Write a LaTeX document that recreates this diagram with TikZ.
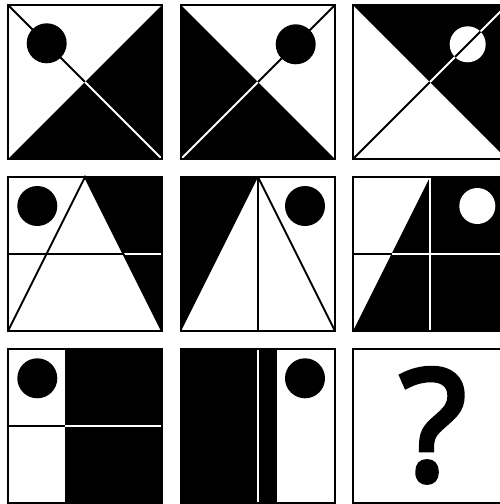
\documentclass[tikz,border=0pt]{standalone}
\usepackage{fontspec}
\newfontfamily\qfont[FakeBold=3.5]{Open Sans}
\begin{document}
\begin{tikzpicture}[x=1pt,y=-1pt,
  frame/.style={draw=black,line width=2pt},
  bk/.style={draw=black,line width=1.8pt},
  wt/.style={draw=white,line width=1.8pt},
  blackfill/.style={fill=black},
  whitefill/.style={fill=white}]
\useasboundingbox (0,0) rectangle (500,504);
\clip (0,0) rectangle (500,504);
\fill[white] (0,0) rectangle (500,504);
% Row 1, panel 1
\begin{scope}[shift={(8,5)}]
  \fill[blackfill] (0,154) -- (154,0) -- (154,154) -- cycle;
  \draw[bk] (0,0) -- (77,77);
  \draw[wt] (77,77) -- (154,154);
  \fill[blackfill] (38.7,38.3) circle (20);
  \draw[frame] (0,0) rectangle (154,154);
\end{scope}
% Row 1, panel 2
\begin{scope}[shift={(181,5)}]
  \fill[blackfill] (0,0) -- (154,154) -- (0,154) -- cycle;
  \draw[wt] (0,154) -- (77,77);
  \draw[bk] (77,77) -- (154,0);
  \fill[blackfill] (114.7,39.3) circle (20);
  \draw[frame] (0,0) rectangle (154,154);
\end{scope}
% Row 1, panel 3
\begin{scope}[shift={(353,5)}]
  \fill[blackfill] (0,0) -- (154,0) -- (154,154) -- cycle;
  \draw[bk] (0,154) -- (77,77);
  \draw[wt] (77,77) -- (154,0);
  \fill[whitefill] (114.7,39.3) circle (18);
  \begin{scope}
    \clip (114.7,39.3) circle (18);
    \draw[bk] (77,77) -- (154,0);
  \end{scope}
  \draw[frame] (0,0) rectangle (154,154);
\end{scope}
% Row 2, panel 1
\begin{scope}[shift={(8,177)}]
  \fill[blackfill] (77,0) -- (154,0) -- (154,154) -- cycle;
  \draw[bk] (0,77) -- (115.5,77);
  \draw[wt] (115.5,77) -- (154,77);
  \draw[bk] (0,154) -- (77,0) -- (154,154);
  \fill[blackfill] (29.3,29) circle (20);
  \draw[frame] (0,0) rectangle (154,154);
\end{scope}
% Row 2, panel 2
\begin{scope}[shift={(181,177)}]
  \fill[blackfill] (0,0) -- (77,0) -- (0,154) -- cycle;
  \draw[bk] (77,0) -- (77,154);
  \draw[bk] (77,0) -- (154,154);
  \fill[blackfill] (124,29) circle (20);
  \draw[frame] (0,0) rectangle (154,154);
\end{scope}
% Row 2, panel 3
\begin{scope}[shift={(353,177)}]
  \fill[blackfill] (77,0) -- (154,0) -- (154,154) -- (0,154) -- cycle;
  \draw[bk] (0,77) -- (38.5,77);
  \draw[wt] (38.5,77) -- (154,77);
  \draw[wt] (77,0) -- (77,154);
  \fill[whitefill] (124.3,29) circle (18);
  \draw[frame] (0,0) rectangle (154,154);
\end{scope}
% Row 3, panel 1
\begin{scope}[shift={(8,349)}]
  \fill[blackfill] (57,0) rectangle (154,154);
  \draw[bk] (0,77) -- (57,77);
  \draw[wt] (57,77) -- (154,77);
  \fill[blackfill] (29.3,29.3) circle (20);
  \draw[frame] (0,0) rectangle (154,154);
\end{scope}
% Row 3, panel 2
\begin{scope}[shift={(181,349)}]
  \fill[blackfill] (0,0) rectangle (96.3,154);
  \draw[wt] (77,0) -- (77,154);
  \fill[blackfill] (124,29.3) circle (20);
  \draw[frame] (0,0) rectangle (154,154);
\end{scope}
% Row 3, panel 3
\begin{scope}[shift={(353,349)}]
  \draw[frame] (0,0) rectangle (154,154);
  \node[anchor=base,inner sep=0pt,font=\qfont\fontsize{154}{154}\selectfont] (q) at (80,131) {?};
\end{scope}
\end{tikzpicture}
\end{document}
